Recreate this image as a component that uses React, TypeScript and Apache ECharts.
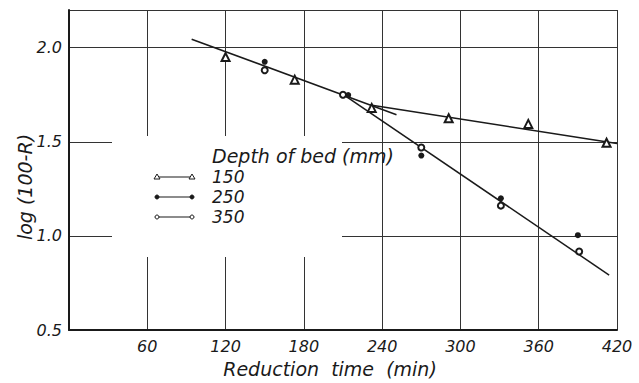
import React, { useEffect, useRef } from "react";
import * as echarts from "echarts";

// Depth of bed 150 mm (open triangles)
const bed150X = [120, 173, 232, 291, 352, 412];
const bed150Y = [1.95, 1.83, 1.68, 1.625, 1.595, 1.495];
// Depth of bed 250 mm (filled circles)
const bed250X = [150, 214, 270, 331, 390];
const bed250Y = [1.925, 1.748, 1.427, 1.2, 1.004];
// Depth of bed 350 mm (open circles)
const bed350X = [150, 210, 270, 331, 391];
const bed350Y = [1.88, 1.75, 1.47, 1.161, 0.917];

// Fitted straight lines (end points)
const fitAX = [94, 251];
const fitAY = [2.045, 1.644];
const fitBX = [231, 420];
const fitBY = [1.696, 1.491];
const fitCX = [212, 414];
const fitCY = [1.743, 0.792];

const legendLabels = ["150", "250", "350"];
const legendTitle = "Depth of bed (mm)";
const xName = "Reduction  time  (min)";
const yName = "log (100-R)";

const zip = (xs: number[], ys: number[]) => xs.map((x, i) => [x, ys[i]]);

const INK = "#1a1a1a";
const FONT = "DejaVu Sans";

export default function App() {
  const ref = useRef<HTMLDivElement>(null);
  useEffect(() => {
    const chart = echarts.init(ref.current!, null, { renderer: "svg" });
    const textBase = { fontFamily: FONT, fontStyle: "italic", fill: INK };
    const legendRows = [177, 197, 217];
    const legendGraphics: any[] = [];
    legendRows.forEach((y, i) => {
      legendGraphics.push({
        type: "line",
        z: 10,
        shape: { x1: 157, y1: y, x2: 192, y2: y },
        style: { stroke: INK, lineWidth: 1.2 },
      });
      [157, 192].forEach((cx) => {
        if (i === 0) {
          legendGraphics.push({
            type: "polygon",
            z: 11,
            shape: { points: [[cx, y - 3], [cx - 3, y + 2], [cx + 3, y + 2]] },
            style: { fill: "#fff", stroke: INK, lineWidth: 1 },
          });
        } else {
          legendGraphics.push({
            type: "circle",
            z: 11,
            shape: { cx, cy: y, r: 2 },
            style: { fill: i === 1 ? INK : "#fff", stroke: INK, lineWidth: 1 },
          });
        }
      });
      legendGraphics.push({
        type: "text",
        z: 11,
        x: 212,
        y,
        style: { ...textBase, text: legendLabels[i], fontSize: 17, lineHeight: 17, verticalAlign: "middle" },
      });
    });

    chart.setOption({
      animation: false,
      backgroundColor: "#fff",
      grid: { left: 69, right: 22, top: 10, bottom: 46 },
      xAxis: {
        type: "value",
        min: 0,
        max: 420,
        interval: 60,
        name: xName,
        nameLocation: "middle",
        nameGap: 24,
        nameTextStyle: { fontFamily: FONT, fontStyle: "italic", fontSize: 19, color: INK, padding: [0, 26, 0, 0] },
        axisLine: { lineStyle: { color: INK, width: 2 } },
        axisTick: { show: false },
        axisLabel: { showMinLabel: false, margin: 8, fontFamily: FONT, fontStyle: "italic", fontSize: 16, color: INK },
        splitLine: { show: true, lineStyle: { color: "#333", width: 1 } },
      },
      yAxis: {
        type: "value",
        min: 0.5,
        max: 2.2,
        interval: 0.5,
        axisLine: { show: true, lineStyle: { color: INK, width: 2 } },
        axisTick: { show: false },
        axisLabel: {
          showMaxLabel: false,
          margin: 7,
          fontFamily: FONT,
          fontStyle: "italic",
          fontSize: 16,
          color: INK,
          formatter: (v: number) => v.toFixed(1),
        },
        splitLine: { show: true, lineStyle: { color: "#333", width: 1 } },
      },
      graphic: [
        { type: "rect", z: 1, shape: { x: 112, y: 136, width: 230, height: 121 }, style: { fill: "#fff" } },
        {
          type: "text",
          z: 11,
          x: 212,
          y: 156,
          style: { ...textBase, text: legendTitle, fontSize: 19, lineHeight: 18, verticalAlign: "middle" },
        },
        {
          type: "text",
          z: 11,
          x: 25,
          y: 187,
          rotation: Math.PI / 2,
          style: { ...textBase, text: yName, fontSize: 19, align: "center", verticalAlign: "middle" },
        },
        ...legendGraphics,
      ],
      series: [
        { type: "line", data: zip(fitAX, fitAY), symbol: "none", z: 2, lineStyle: { color: INK, width: 1.5 } },
        { type: "line", data: zip(fitBX, fitBY), symbol: "none", z: 2, lineStyle: { color: INK, width: 1.5 } },
        { type: "line", data: zip(fitCX, fitCY), symbol: "none", z: 2, lineStyle: { color: INK, width: 1.5 } },
        {
          name: "150",
          type: "scatter",
          z: 4,
          data: zip(bed150X, bed150Y),
          symbol: "emptyTriangle",
          symbolSize: 8,
          itemStyle: { color: INK, borderColor: INK, borderWidth: 1, opacity: 1 },
        },
        {
          name: "250",
          type: "scatter",
          z: 4,
          data: zip(bed250X, bed250Y),
          symbol: "circle",
          symbolSize: 6,
          itemStyle: { color: INK, opacity: 1 },
        },
        {
          name: "350",
          type: "scatter",
          z: 4,
          data: zip(bed350X, bed350Y),
          symbol: "emptyCircle",
          symbolSize: 6,
          itemStyle: { color: INK, borderColor: INK, borderWidth: 1, opacity: 1 },
        },
      ],
    });
    return () => chart.dispose();
  }, []);
  return <div ref={ref} style={{ position: "absolute", left: 0, top: 0, width: 639, height: 383 }} />;
}
